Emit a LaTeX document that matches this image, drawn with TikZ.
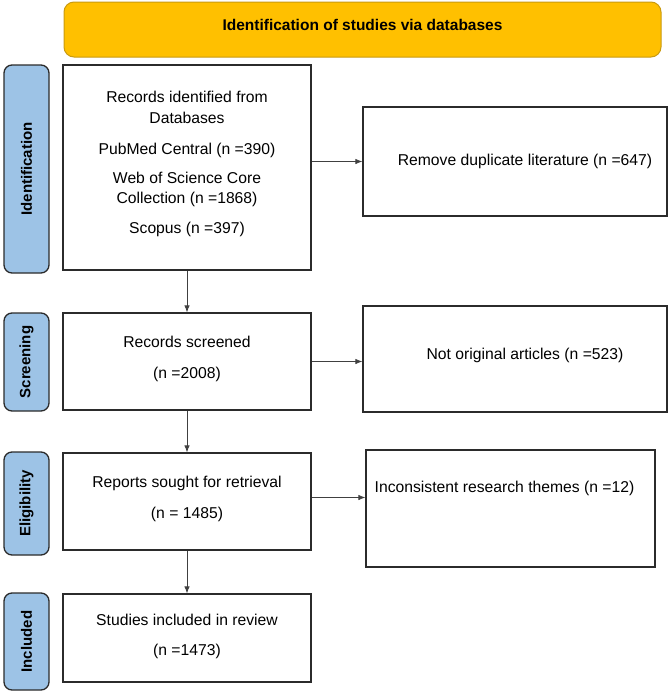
\documentclass[tikz,border=0pt]{standalone}
\usepackage{fontspec}
\setmainfont{Liberation Sans}
\usepackage{xcolor}
\usepackage{tikz}
\usetikzlibrary{calc, positioning, arrows.meta}

\definecolor{headfill}{HTML}{FFC000}
\definecolor{headline}{HTML}{C99A10}
\definecolor{tabfill}{HTML}{9DC3E6}
\definecolor{boxline}{HTML}{2B2B2B}

\tikzset{
    headbox/.style={draw=headline, line width=1pt, fill=headfill, rounded corners=10pt,
        inner sep=0pt, text depth=10pt, font=\bfseries\fontsize{15.5}{18}\selectfont},
    stagetab/.style={draw=boxline, line width=1.3pt, fill=tabfill, rounded corners=8pt,
        rotate=90, minimum height=45pt, inner sep=0pt, font=\bfseries\fontsize{15}{18}\selectfont},
    flowbox/.style={draw=boxline, line width=1.3pt, inner sep=0pt, align=center,
        font=\fontsize{15.7}{20.5}\selectfont},
    flowarrow/.style={->, draw=black!75, line width=0.8pt}
}

\begin{document}
\begin{tikzpicture}[>={Latex[length=7pt, width=5.5pt]}, x=1pt, y=-1pt]
    \useasboundingbox (0,0) rectangle (669,694);

    % Tiêu đề
    \node[headbox, minimum width=597pt, minimum height=55pt] (head) at (362.5,29.5)
        {Identification of studies via databases};

    % Các nhãn giai đoạn
    \node[stagetab, minimum width=208pt] (tid) at (26.5,169)   {Identification};
    \node[stagetab, minimum width=98pt]  (tsc) at (26.5,362)   {Screening};
    \node[stagetab, minimum width=103pt] (tel) at (26.5,503.5) {Eligibility};
    \node[stagetab, minimum width=97pt]  (tin) at (26.5,641.5) {Included};

    % Cột chính
    \node[flowbox, minimum width=248pt, minimum height=205pt] (records) at (187,167.5)
        {Records identified from\\Databases\\[11pt]
         PubMed Central (n =390)\\[8pt]
         Web of Science Core\\Collection (n =1868)\\[9pt]
         Scopus (n =397)\\[-10.5pt]};
    \node[flowbox, minimum width=248pt, minimum height=97pt] (screened) at (187,361.5)
        {Records screened\\[10pt](n =2008)\\[-12pt]};
    \node[flowbox, minimum width=248pt, minimum height=97pt] (sought) at (187,501.5)
        {Reports sought for retrieval\\[10pt](n = 1485)\\[-12pt]};
    \node[flowbox, minimum width=248pt, minimum height=88pt] (included) at (187,638)
        {Studies included in review\\[10pt](n =1473)\\[-14pt]};

    % Cột loại trừ
    \node[flowbox, minimum width=304pt, minimum height=109pt] (duplicate) at (515,161.5)
        {\hspace*{20pt}Remove duplicate literature (n =647)};
    \node[flowbox, minimum width=304pt, minimum height=106pt] (notorig) at (515,359)
        {\hspace*{20pt}Not original articles (n =523)\\[-10pt]};
    \node[flowbox, minimum width=289pt, minimum height=117pt] (themes) at (510.5,508.5)
        {Inconsistent research themes (n =12)\hspace*{12pt}\\[22pt]};

    % Mũi tên
    \draw[flowarrow] (records) -- (screened);
    \draw[flowarrow] (screened) -- (sought);
    \draw[flowarrow] (sought) -- (included);
    \draw[flowarrow] (duplicate.west -| records.east) -- (duplicate.west);
    \draw[flowarrow] (screened.east) -- (screened.east -| notorig.west);
    \draw[flowarrow] ($(sought.east)+(0,-4)$) -- ($(sought.east -| themes.west)+(0,-4)$);
\end{tikzpicture}
\end{document}
